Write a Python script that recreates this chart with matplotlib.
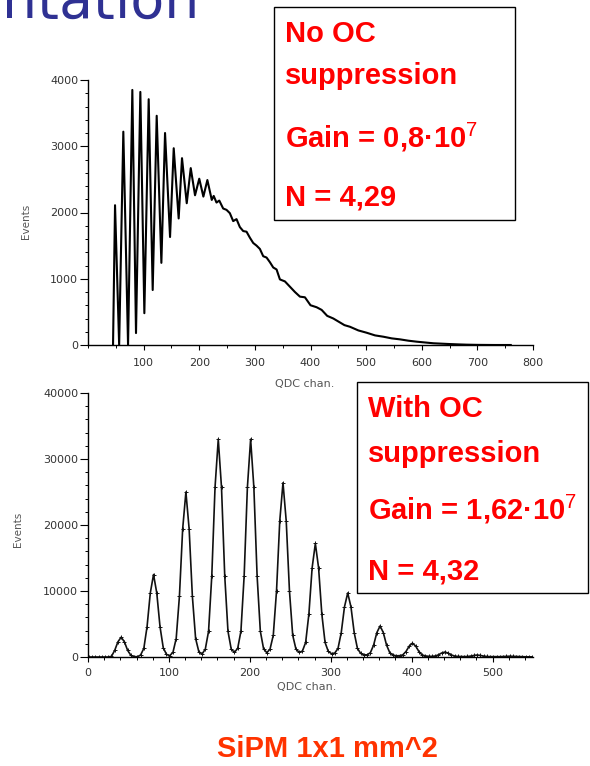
import numpy as np
import matplotlib
matplotlib.use("Agg")
import matplotlib.pyplot as plt
from matplotlib.patches import Rectangle
from matplotlib.ticker import MultipleLocator

# ---------------- data ----------------
# Top spectrum (no OC suppression): vertices
top_x = [45, 48.6, 56, 63.5, 72, 79.7, 86.3, 94.1, 101.3, 109.1,
         116.3, 123.5, 131.9, 138.5, 147.5, 154.1, 163, 169, 177.5, 184.7,
         192.4, 200, 207.4, 214.6, 222.5, 226, 231, 236, 243, 249,
         255, 261, 267, 273, 279, 285, 291, 297, 303, 309,
         315, 321, 327, 333, 339, 345, 354, 363, 372, 381,
         390, 400, 411, 420, 430, 441, 451, 461, 471, 486,
         501, 516, 531, 546, 561, 576, 591, 606, 621, 636,
         651, 666, 681, 700, 730, 760]
top_y = [0, 2110, 0, 3220, 0, 3850, 180, 3820, 480, 3710,
         830, 3460, 1240, 3200, 1630, 2970, 1910, 2820, 2140, 2670,
         2260, 2510, 2240, 2490, 2190, 2250, 2150, 2180, 2060, 2040,
         1990, 1870, 1900, 1780, 1720, 1710, 1620, 1540, 1500, 1450,
         1340, 1320, 1250, 1170, 1140, 990, 960, 880, 800, 730,
         720, 600, 570, 530, 440, 400, 350, 300, 275, 220,
         185, 145, 125, 100, 85, 65, 50, 38, 26, 20,
         14, 9, 5, 2, 0, 0]

# Bottom spectrum (with OC suppression): counts per 4-channel bin
bot_x = np.arange(1, 550, 4)
bot_y = [0, 0, 0, 0, 0, 0, 0,
         100, 1000, 2300, 3000, 2300, 1000, 250, 60, 40,
         300, 1300, 4600, 9700, 12500, 9700, 4600, 1400, 400, 200,
         700, 2800, 9200, 19400, 25000, 19400, 9200, 2800, 800, 450,
         1200, 3900, 12300, 25700, 33000, 25700, 12300, 3900, 1200, 700,
         1300, 3900, 12300, 25700, 33000, 25700, 12300, 3900, 1250, 650,
         1200, 3300, 10000, 20600, 26400, 20600, 10000, 3300, 1200, 700,
         900, 2200, 6500, 13500, 17200, 13500, 6500, 2200, 850, 500,
         600, 1300, 3700, 7600, 9700, 7600, 3700, 1300, 550, 330,
         330, 650, 1800, 3700, 4700, 3700, 1800, 650, 300, 180,
         200, 320, 830, 1650, 2100, 1650, 830, 320, 160, 110,
         100, 150, 320, 600, 750, 600, 320, 150, 90, 70,
         60, 80, 140, 240, 300, 240, 140, 80, 55, 50,
         40, 50, 70, 100, 120, 100, 70, 45, 35, 30,
         25, 20]

top_xticks = [100, 200, 300, 400, 500, 600, 700, 800]
top_yticks = [0, 1000, 2000, 3000, 4000]
bot_xticks = [0, 100, 200, 300, 400, 500]
bot_yticks = [0, 10000, 20000, 30000, 40000]

box1_lines = ["No OC", "suppression", "Gain = 0,8\u00b710$^{7}$", "N = 4,29"]
box2_lines = ["With OC", "suppression", "Gain = 1,62\u00b710$^{7}$", "N = 4,32"]
title_text = "ntation"
footer_text = "SiPM 1x1 mm^2"

# ---------------- figure ----------------
plt.rcParams['mathtext.fontset'] = 'custom'
plt.rcParams['mathtext.rm'] = 'Liberation Sans'
plt.rcParams['mathtext.it'] = 'Liberation Sans:italic'
plt.rcParams['mathtext.bf'] = 'Liberation Sans:bold'

W, H = 590, 766
fig = plt.figure(figsize=(W / 100, H / 100), dpi=100)
fig.patch.set_facecolor('white')

def fx(px):
    return px / W

def fy(py):
    return 1 - py / H

TICK_COLOR = '#333333'
LABEL_COLOR = '#555555'

def style_axes(ax, xmin, ymin, xpad):
    for s in ('top', 'right'):
        ax.spines[s].set_visible(False)
    for s in ('left', 'bottom'):
        ax.spines[s].set_linewidth(1.0)
        ax.spines[s].set_color('black')
    ax.xaxis.set_minor_locator(MultipleLocator(xmin))
    ax.yaxis.set_minor_locator(MultipleLocator(ymin))
    ax.tick_params(axis='y', which='major', direction='out', length=5.5, width=0.8,
                   pad=1.5, labelsize=8, labelcolor=TICK_COLOR)
    ax.tick_params(axis='y', which='minor', direction='out', length=2.5, width=0.7)
    ax.tick_params(axis='x', which='major', direction='out', length=3.6, width=0.8,
                   pad=xpad, labelsize=8, labelcolor=TICK_COLOR)
    ax.tick_params(axis='x', which='minor', direction='out', length=2.2, width=0.7)

# Top axes
ax1 = fig.add_axes([fx(88), fy(345), (533 - 88) / W, (345 - 80) / H])
ax1.plot(top_x, top_y, color='black', lw=1.5)
ax1.set_xlim(0, 800)
ax1.set_ylim(0, 4000)
ax1.set_xticks(top_xticks)
ax1.set_yticks(top_yticks)
style_axes(ax1, 50, 200, 5.5)
ax1.set_xlabel("QDC chan.", fontsize=8, color=LABEL_COLOR)
ax1.xaxis.set_label_coords(0.488, -0.128)
ax1.set_ylabel("Events", fontsize=7.5, color=LABEL_COLOR)
ax1.yaxis.set_label_coords(-0.128, 0.468)

# Bottom axes
ax2 = fig.add_axes([fx(88), fy(657), (533 - 88) / W, (657 - 393) / H])
ax2.plot(bot_x, bot_y, color='#111111', lw=1.2, marker='+', ms=3.2, mew=0.7)
ax2.set_xlim(0, 550)
ax2.set_ylim(0, 40000)
ax2.set_xticks(bot_xticks)
ax2.set_yticks(bot_yticks)
style_axes(ax2, 20, 2000, 4.5)
ax2.set_xlabel("QDC chan.", fontsize=8, color=LABEL_COLOR)
ax2.xaxis.set_label_coords(0.492, -0.094)
ax2.set_ylabel("Events", fontsize=7.5, color=LABEL_COLOR)
ax2.yaxis.set_label_coords(-0.146, 0.485)

# Boxes with red annotation text
def add_box(left, top, right, bottom, x_text, baselines, lines):
    rect = Rectangle((fx(left), fy(bottom)), (right - left) / W, (bottom - top) / H,
                     transform=fig.transFigure, facecolor='white', edgecolor='black',
                     lw=1.0, zorder=5)
    fig.add_artist(rect)
    for b, t in zip(baselines, lines):
        fig.text(fx(x_text), fy(b), t, color='#ff0000', fontsize=21,
                 family='Liberation Sans', weight='bold', ha='left', va='baseline',
                 zorder=6)

add_box(274, 7, 515, 220, 285, [42, 84, 147, 205], box1_lines)
add_box(357, 382, 588, 593, 368, [417, 462, 520, 580], box2_lines)

# Slide title fragment (cut at the top edge, as on the slide)
fig.text(fx(2), fy(18), title_text, color='#2f3193', fontsize=40,
         family='DejaVu Sans', ha='left', va='baseline')

# Footer
fig.text(fx(327), fy(757), footer_text, color='#ff3300', fontsize=21,
         family='Liberation Sans', weight='bold', ha='center', va='baseline')

fig.savefig('out.png', dpi=100, facecolor='white')
